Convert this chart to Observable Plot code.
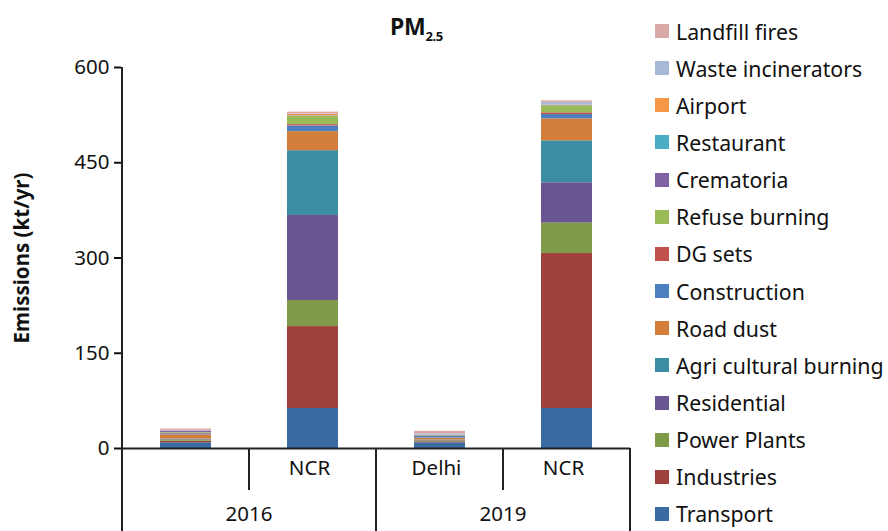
<!DOCTYPE html>
<html>
<head>
<meta charset="utf-8">
<script src="https://cdn.jsdelivr.net/npm/d3@7"></script>
<script src="https://cdn.jsdelivr.net/npm/@observablehq/plot@0.6"></script>
<style>
  html, body { margin: 0; padding: 0; background: #fff; }
  #wrap { position: relative; width: 888px; height: 531px; font-family: "Noto Sans", sans-serif; color: #111; }
  #title { position: absolute; left: 390px; top: 12px; font-weight: bold; font-size: 23px; line-height: 28px; letter-spacing: -0.3px; }
  #title sub { font-size: 13px; vertical-align: -6px; }
  .lg { position: absolute; left: 655px; height: 24px; display: flex; align-items: center; font-size: 21.3px; white-space: nowrap; }
  .lg span.sw { display: inline-block; width: 14px; height: 14px; margin-right: 7px; }
</style>
</head>
<body>
<div id="wrap"><div id="title">PM<sub>2.5</sub></div></div>
<script>
// ---- data ----
const years = ["2016", "2016", "2019", "2019"];
const regions = ["", "NCR", "Delhi", "NCR"];       // 2016 Delhi label is blank in the original
const keys = ["2016 Delhi", "2016 NCR", "2019 Delhi", "2019 NCR"];

// stack order bottom -> top
const sources = ["Transport", "Industries", "Power Plants", "Residential", "Agri cultural burning",
  "Road dust", "Construction", "DG sets", "Refuse burning", "Crematoria", "Restaurant",
  "Airport", "Waste incinerators", "Landfill fires"];
const colors = ["#3A6BA3", "#A0403D", "#7F9B49", "#6A5690", "#3C8DA4",
  "#D27E3A", "#4C80C0", "#C2504D", "#9BBB59", "#8064A2", "#4BACC6",
  "#F79646", "#A7B8D9", "#D9A8A7"];

const delhi2016 = [9, 2.5, 2, 1, 0.5, 6.5, 1.5, 1, 1, 2, 0.5, 0.3, 0.3, 2.5];
const ncr2016   = [63, 129, 41, 134, 102, 30, 9, 2, 13, 0.5, 0.5, 2.5, 0.5, 2.7];
const delhi2019 = [9, 1.5, 1.5, 1, 0.5, 3, 2.5, 0.5, 0.7, 0.5, 0.5, 0.3, 1.5, 4];
const ncr2019   = [63, 244, 48, 63.5, 66, 34.6, 6.8, 2.7, 11, 0.5, 0.5, 0.5, 3.6, 2.7];
const seriesByKey = [delhi2016, ncr2016, delhi2019, ncr2019];

const yTicks = [0, 150, 300, 450, 600];

// ---- table for Plot ----
const data = [];
keys.forEach((k, i) => sources.forEach((s, j) => data.push({key: k, source: s, value: seriesByKey[i][j]})));

// hierarchical category axis drawn from the x and y scales
function categoryAxis(index, scales, values, dims) {
  const x = scales.x, y = scales.y;
  const bw = x.bandwidth ? x.bandwidth() : 0;
  const centers = keys.map(k => x(k) + bw / 2);
  const step = centers[1] - centers[0];
  const y0 = y(0);
  const g = d3.create("svg:g").attr("fill", "none");
  const line = (x1, y1, x2, y2) => g.append("line").attr("x1", x1).attr("y1", y1).attr("x2", x2).attr("y2", y2)
      .attr("stroke", "#222").attr("stroke-width", 2);
  // y axis line
  line(centers[0] - step / 2, y(yTicks[0]), centers[0] - step / 2, y(yTicks[yTicks.length - 1]));
  // separators
  const edges = [centers[0] - step / 2, ...centers.map(c => c + step / 2)];
  edges.forEach((e, i) => {
    const yearBoundary = i === 0 || i === edges.length - 1 || years[i - 1] !== years[i];
    line(e, y0, e, yearBoundary ? dims.height : y0 + 42);
  });
  // region labels
  centers.forEach((c, i) => {
    g.append("text").attr("x", c - 3).attr("y", y0 + 20).attr("text-anchor", "middle").attr("dy", "0.35em")
      .attr("fill", "#111").attr("font-size", 20.5).text(regions[i]);
  });
  // year labels
  const uniq = [...new Set(years)];
  uniq.forEach(yr => {
    const idx = years.map((v, i) => v === yr ? i : -1).filter(i => i >= 0);
    const cx = (centers[idx[0]] + centers[idx[idx.length - 1]]) / 2;
    g.append("text").attr("x", cx).attr("y", y0 + 66).attr("text-anchor", "middle").attr("dy", "0.35em")
      .attr("fill", "#111").attr("font-size", 20.5).text(yr);
  });
  return g.node();
}

const chart = Plot.plot({
  width: 888,
  height: 531,
  marginLeft: 121,
  marginRight: 258,
  marginTop: 67,
  marginBottom: 83,
  style: {fontFamily: "Noto Sans", fontSize: "20px", color: "#111", background: "transparent", overflow: "visible"},
  x: {domain: keys, paddingInner: 0.6, paddingOuter: 0.3, axis: null},
  y: {domain: [0, 600], axis: null},
  color: {domain: sources, range: colors},
  marks: [
    Plot.barY(data, {x: "key", y: "value", fill: "source"}),
    Plot.axisY({ticks: yTicks, tickSize: 7, tickPadding: 5, strokeWidth: 2, label: null, fontSize: 20.5, tickFormat: d => String(d)}),
    Plot.ruleY([0], {stroke: "#222", strokeWidth: 2}),
    Plot.text(["Emissions (kt/yr)"], {frameAnchor: "left", textAnchor: "middle", rotate: -90, dx: -99, fontWeight: "bold", fontSize: 20.5, fill: "#111"}),
    categoryAxis
  ]
});
chart.style.position = "absolute";
chart.style.left = "0px";
chart.style.top = "0px";
const wrap = document.getElementById("wrap");
wrap.appendChild(chart);

// legend (top -> bottom is reverse of stack order)
const legendCenters0 = 31, legendStep = 37.15;
sources.slice().reverse().forEach((s, i) => {
  const j = sources.indexOf(s);
  const d = document.createElement("div");
  d.className = "lg";
  d.style.top = (legendCenters0 + i * legendStep - 12) + "px";
  d.innerHTML = `<span class="sw" style="background:${colors[j]}"></span><span></span>`;
  d.lastChild.textContent = s;
  wrap.appendChild(d);
});
</script>
</body>
</html>
